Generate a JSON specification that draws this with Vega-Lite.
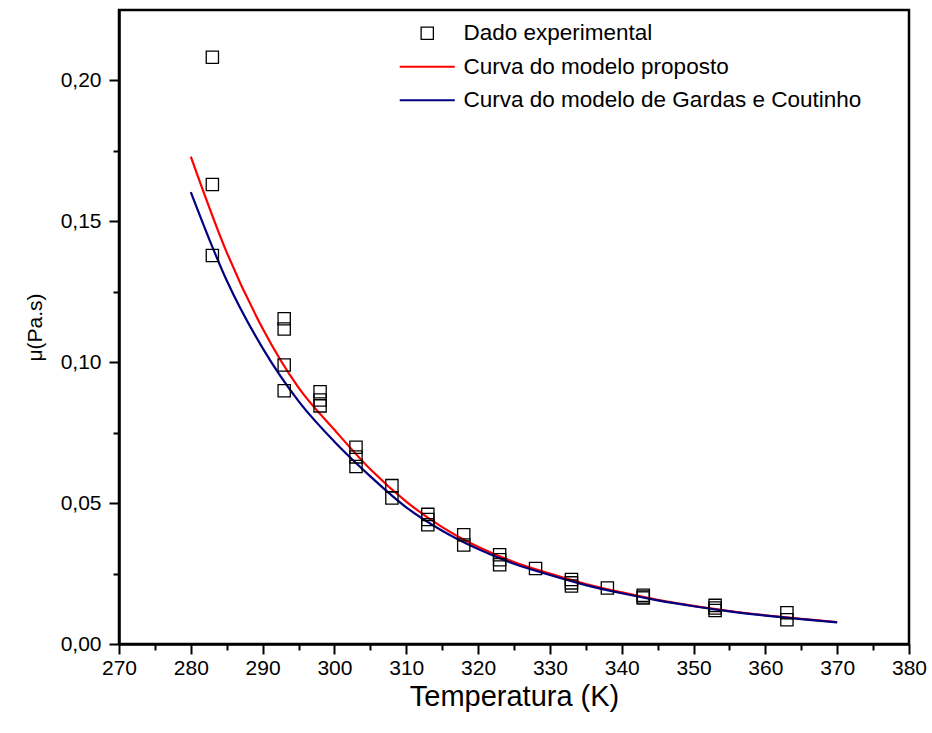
{
  "$schema": "https://vega.github.io/schema/vega-lite/v6.json",
  "width": 790,
  "height": 634,
  "autosize": {"type": "none"},
  "padding": {"left": 119, "top": 10, "right": 23, "bottom": 89},
  "background": "white",
  "config": {
    "view": {"stroke": "black", "strokeWidth": 2.5},
    "font": "Liberation Sans",
    "legend": {
      "title": null,
      "orient": "none", "legendX": 297, "legendY": 12,
      "padding": 0,
      "labelFontSize": 22.5, "labelColor": "black", "labelOffset": 25, "labelLimit": 600,
      "rowPadding": 10.5, "symbolSize": 150, "symbolStrokeWidth": 2
    }
  },
  "datasets": {
    "pontos": [
      {"T": 283, "mu": 0.2082, "serie": "Dado experimental"},
      {"T": 283, "mu": 0.1631, "serie": "Dado experimental"},
      {"T": 283, "mu": 0.1379, "serie": "Dado experimental"},
      {"T": 293, "mu": 0.1154, "serie": "Dado experimental"},
      {"T": 293, "mu": 0.1118, "serie": "Dado experimental"},
      {"T": 293, "mu": 0.0990, "serie": "Dado experimental"},
      {"T": 293, "mu": 0.0899, "serie": "Dado experimental"},
      {"T": 298, "mu": 0.0895, "serie": "Dado experimental"},
      {"T": 298, "mu": 0.0866, "serie": "Dado experimental"},
      {"T": 298, "mu": 0.0845, "serie": "Dado experimental"},
      {"T": 303, "mu": 0.0698, "serie": "Dado experimental"},
      {"T": 303, "mu": 0.0664, "serie": "Dado experimental"},
      {"T": 303, "mu": 0.0630, "serie": "Dado experimental"},
      {"T": 308, "mu": 0.0562, "serie": "Dado experimental"},
      {"T": 308, "mu": 0.0518, "serie": "Dado experimental"},
      {"T": 313, "mu": 0.0460, "serie": "Dado experimental"},
      {"T": 313, "mu": 0.0442, "serie": "Dado experimental"},
      {"T": 313, "mu": 0.0423, "serie": "Dado experimental"},
      {"T": 318, "mu": 0.0388, "serie": "Dado experimental"},
      {"T": 318, "mu": 0.0351, "serie": "Dado experimental"},
      {"T": 323, "mu": 0.0317, "serie": "Dado experimental"},
      {"T": 323, "mu": 0.0299, "serie": "Dado experimental"},
      {"T": 323, "mu": 0.0281, "serie": "Dado experimental"},
      {"T": 328, "mu": 0.0268, "serie": "Dado experimental"},
      {"T": 333, "mu": 0.0229, "serie": "Dado experimental"},
      {"T": 333, "mu": 0.0217, "serie": "Dado experimental"},
      {"T": 333, "mu": 0.0206, "serie": "Dado experimental"},
      {"T": 338, "mu": 0.0199, "serie": "Dado experimental"},
      {"T": 343, "mu": 0.0173, "serie": "Dado experimental"},
      {"T": 343, "mu": 0.0167, "serie": "Dado experimental"},
      {"T": 343, "mu": 0.0163, "serie": "Dado experimental"},
      {"T": 353, "mu": 0.0137, "serie": "Dado experimental"},
      {"T": 353, "mu": 0.0128, "serie": "Dado experimental"},
      {"T": 353, "mu": 0.0119, "serie": "Dado experimental"},
      {"T": 363, "mu": 0.0111, "serie": "Dado experimental"},
      {"T": 363, "mu": 0.0086, "serie": "Dado experimental"}
    ],
    "curvas": [
      {"T": 280, "mu": 0.1730, "serie": "Curva do modelo proposto"},
      {"T": 285, "mu": 0.1390, "serie": "Curva do modelo proposto"},
      {"T": 290, "mu": 0.1120, "serie": "Curva do modelo proposto"},
      {"T": 295, "mu": 0.0910, "serie": "Curva do modelo proposto"},
      {"T": 300, "mu": 0.0760, "serie": "Curva do modelo proposto"},
      {"T": 305, "mu": 0.0620, "serie": "Curva do modelo proposto"},
      {"T": 310, "mu": 0.0505, "serie": "Curva do modelo proposto"},
      {"T": 315, "mu": 0.0415, "serie": "Curva do modelo proposto"},
      {"T": 320, "mu": 0.0345, "serie": "Curva do modelo proposto"},
      {"T": 325, "mu": 0.0291, "serie": "Curva do modelo proposto"},
      {"T": 330, "mu": 0.0250, "serie": "Curva do modelo proposto"},
      {"T": 335, "mu": 0.0213, "serie": "Curva do modelo proposto"},
      {"T": 340, "mu": 0.0183, "serie": "Curva do modelo proposto"},
      {"T": 345, "mu": 0.0157, "serie": "Curva do modelo proposto"},
      {"T": 350, "mu": 0.0135, "serie": "Curva do modelo proposto"},
      {"T": 355, "mu": 0.0117, "serie": "Curva do modelo proposto"},
      {"T": 360, "mu": 0.0102, "serie": "Curva do modelo proposto"},
      {"T": 365, "mu": 0.0089, "serie": "Curva do modelo proposto"},
      {"T": 370, "mu": 0.0078, "serie": "Curva do modelo proposto"},
      {"T": 280, "mu": 0.1604, "serie": "Curva do modelo de Gardas e Coutinho"},
      {"T": 285, "mu": 0.1290, "serie": "Curva do modelo de Gardas e Coutinho"},
      {"T": 290, "mu": 0.1050, "serie": "Curva do modelo de Gardas e Coutinho"},
      {"T": 295, "mu": 0.0862, "serie": "Curva do modelo de Gardas e Coutinho"},
      {"T": 300, "mu": 0.0718, "serie": "Curva do modelo de Gardas e Coutinho"},
      {"T": 305, "mu": 0.0595, "serie": "Curva do modelo de Gardas e Coutinho"},
      {"T": 310, "mu": 0.0485, "serie": "Curva do modelo de Gardas e Coutinho"},
      {"T": 315, "mu": 0.0402, "serie": "Curva do modelo de Gardas e Coutinho"},
      {"T": 320, "mu": 0.0337, "serie": "Curva do modelo de Gardas e Coutinho"},
      {"T": 325, "mu": 0.0285, "serie": "Curva do modelo de Gardas e Coutinho"},
      {"T": 330, "mu": 0.0245, "serie": "Curva do modelo de Gardas e Coutinho"},
      {"T": 335, "mu": 0.0209, "serie": "Curva do modelo de Gardas e Coutinho"},
      {"T": 340, "mu": 0.0180, "serie": "Curva do modelo de Gardas e Coutinho"},
      {"T": 345, "mu": 0.0155, "serie": "Curva do modelo de Gardas e Coutinho"},
      {"T": 350, "mu": 0.0134, "serie": "Curva do modelo de Gardas e Coutinho"},
      {"T": 355, "mu": 0.0116, "serie": "Curva do modelo de Gardas e Coutinho"},
      {"T": 360, "mu": 0.0101, "serie": "Curva do modelo de Gardas e Coutinho"},
      {"T": 365, "mu": 0.0088, "serie": "Curva do modelo de Gardas e Coutinho"},
      {"T": 370, "mu": 0.0077, "serie": "Curva do modelo de Gardas e Coutinho"}
    ]
  },
  "encoding": {
    "x": {
      "field": "T", "type": "quantitative",
      "scale": {"domain": [270, 380], "nice": false, "zero": false},
      "axis": {
        "title": "Temperatura (K)",
        "titleFontSize": 29, "titleFontWeight": "normal", "titleColor": "black", "titlePadding": 4,
        "values": [270,275,280,285,290,295,300,305,310,315,320,325,330,335,340,345,350,355,360,365,370,375,380],
        "labelExpr": "datum.value % 10 === 0 ? datum.label : ''",
        "format": "d",
        "labelFontSize": 21, "labelColor": "black", "labelPadding": 3,
        "labelFlush": false, "labelOverlap": false,
        "tickSize": {"condition": {"test": "datum.value % 10 === 0", "value": 10}, "value": 6},
        "tickWidth": 2, "tickColor": "black",
        "domainColor": "black", "domainWidth": 2.5, "grid": false
      }
    },
    "y": {
      "field": "mu", "type": "quantitative",
      "scale": {"domain": [0, 0.225], "nice": false, "zero": false},
      "axis": {
        "title": "μ(Pa.s)",
        "titleFontSize": 21, "titleFontWeight": "normal", "titleColor": "black", "titlePadding": 15,
        "values": [0, 0.025, 0.05, 0.075, 0.1, 0.125, 0.15, 0.175, 0.2],
        "labelExpr": "abs(datum.value*20 - round(datum.value*20)) < 0.000001 ? replace(format(datum.value, '.2f'), '.', ',') : ''",
        "labelFontSize": 21, "labelColor": "black", "labelPadding": 8,
        "labelFlush": false, "labelOverlap": false,
        "tickSize": {"condition": {"test": "abs(datum.value*20 - round(datum.value*20)) < 0.000001", "value": 10}, "value": 6},
        "tickWidth": 2, "tickColor": "black",
        "domainColor": "black", "domainWidth": 2.5, "grid": false
      }
    },
    "color": {
      "field": "serie", "type": "nominal",
      "scale": {
        "domain": ["Dado experimental", "Curva do modelo proposto", "Curva do modelo de Gardas e Coutinho"],
        "range": ["#000000", "#FF0000", "#000080"]
      },
      "legend": {
        "encode": {
          "symbols": {
            "update": {
              "strokeWidth": {"signal": "datum.value === 'Dado experimental' ? 1.3 : 2.2"}
            }
          }
        }
      }
    }
  },
  "layer": [
    {
      "data": {"name": "curvas"},
      "mark": {"type": "line", "strokeWidth": 2.2, "interpolate": "monotone"},
      "encoding": {}
    },
    {
      "data": {"name": "pontos"},
      "mark": {"type": "point", "filled": false, "size": 150, "strokeWidth": 1.3, "opacity": 1},
      "encoding": {
        "shape": {
          "field": "serie", "type": "nominal",
          "scale": {
            "domain": ["Dado experimental", "Curva do modelo proposto", "Curva do modelo de Gardas e Coutinho"],
            "range": ["square", "M-4.5,0H4.5", "M-4.5,0H4.5"]
          }
        }
      }
    }
  ]
}
